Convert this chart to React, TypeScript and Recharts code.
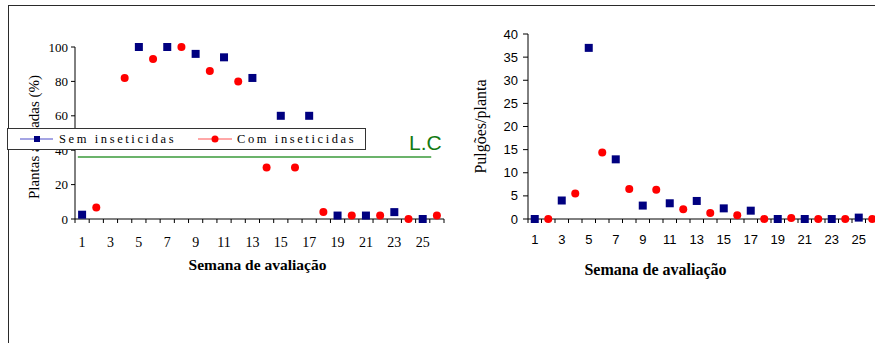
import React from 'react';
import { ScatterChart, Scatter, XAxis, YAxis, ReferenceLine, Label } from 'recharts';

// weeks of evaluation
const weeks = [1, 2, 3, 4, 5, 6, 7, 8, 9, 10, 11, 12, 13, 14, 15, 16, 17, 18, 19, 20, 21, 22, 23, 24, 25, 26];
const xTickLabels = [1, 3, 5, 7, 9, 11, 13, 15, 17, 19, 21, 23, 25];

// "Sem inseticidas" is sampled on odd weeks, "Com inseticidas" on even weeks
const semWeeks = [1, 3, 5, 7, 9, 11, 13, 15, 17, 19, 21, 23, 25];
const comWeeks = [2, 4, 6, 8, 10, 12, 14, 16, 18, 20, 22, 24, 26];

// left: attacked plants (%) - week 3 of "Sem" has no point in the picture
const semPlantas = [2.5, null, 100, 100, 96, 94, 82, 60, 60, 2, 2, 4, 0];
const comPlantas = [6.7, 82, 93, 100, 86, 80, 30, 30, 4, 2, 2, 0, 2];
const lcValue = 36;

// right: aphids per plant
const semPulgoes = [0, 4, 37, 12.9, 2.9, 3.4, 3.9, 2.3, 1.8, 0, 0, 0, 0.3];
const comPulgoes = [0, 5.5, 14.4, 6.5, 6.3, 2.1, 1.3, 0.8, 0, 0.2, 0, 0, 0];

const yTicksLeft = [0, 20, 40, 60, 80, 100];
const yTicksRight = [0, 5, 10, 15, 20, 25, 30, 35, 40];

const SERIF = "'Liberation Serif', 'Times New Roman', Times, 'DejaVu Serif', serif";
const SANS = "'Liberation Sans', Arial, Helvetica, sans-serif";
const NAVY = '#000080';
const RED = '#ff0000';

const toPoints = (xs: number[], ys: (number | null)[]) =>
  xs.map((w, i) => ({ week: w, value: ys[i] })).filter((p) => p.value !== null);

// tick marks sit between weeks, labels on odd weeks
const xTicks = [...weeks.map((w) => w - 0.5), weeks[weeks.length - 1] + 0.5, ...xTickLabels].sort((a, b) => a - b);

const weekTick = (props: any, font: string, size: number, dy: number) => {
  const { x, y, payload } = props;
  const v = payload.value;
  if (!Number.isInteger(v)) {
    return <line x1={x} x2={x} y1={y} y2={y + 4} stroke="#000" />;
  }
  return (
    <text x={x} y={y + dy} textAnchor="middle" style={{ fontFamily: font, fontSize: size }} fill="#000">
      {v}
    </text>
  );
};

const Square = (p: any) => <rect x={p.cx - 4} y={p.cy - 4} width={8} height={8} fill={NAVY} />;
const Dot = (p: any) => <circle cx={p.cx} cy={p.cy} r={4} fill={RED} />;

function PlantasChart() {
  return (
    <ScatterChart width={460} height={290} margin={{ top: 47, right: 16, bottom: 11, left: 0 }}>
      <XAxis
        type="number"
        dataKey="week"
        domain={[0.5, 26.5]}
        ticks={xTicks}
        interval={0}
        tickLine={false}
        tickSize={0}
        tickMargin={0}
        height={60}
        stroke="#000"
        tick={(p: any) => weekTick(p, SERIF, 14, 28)}
      >
        <Label
          value="Semana de avaliação"
          position="insideBottom"
          offset={9}
          dx={-2}
          style={{ fontFamily: SERIF, fontSize: 15.5, fontWeight: 'bold', fill: '#000' }}
        />
      </XAxis>
      <YAxis
        type="number"
        dataKey="value"
        domain={[0, 100]}
        ticks={yTicksLeft}
        width={75}
        tickSize={4}
        tickMargin={3}
        stroke="#000"
        tick={{ style: { fontFamily: SERIF, fontSize: 13 }, fill: '#000' }}
      >
        <Label
          value="Plantas atacadas (%)"
          angle={-90}
          position="insideLeft"
          offset={34}
          dy={4}
          style={{ fontFamily: SERIF, fontSize: 15, fill: '#000', textAnchor: 'middle' }}
        />
      </YAxis>
      <ReferenceLine
        segment={[{ x: 0.7, y: lcValue }, { x: 25.6, y: lcValue }]}
        stroke="#3a9a3a"
        strokeWidth={1.5}
      />
      <Scatter data={toPoints(semWeeks, semPlantas)} shape={Square} isAnimationActive={false} />
      <Scatter data={toPoints(comWeeks, comPlantas)} shape={Dot} isAnimationActive={false} />
    </ScatterChart>
  );
}

function PulgoesChart() {
  return (
    <ScatterChart width={430} height={290} margin={{ top: 34, right: 11, bottom: 11, left: 0 }}>
      <XAxis
        type="number"
        dataKey="week"
        domain={[0.5, 26.5]}
        ticks={xTicks}
        interval={0}
        tickLine={false}
        tickSize={0}
        tickMargin={0}
        height={60}
        stroke="#000"
        tick={(p: any) => weekTick(p, SANS, 13, 25)}
      >
        <Label
          value="Semana de avaliação"
          position="insideBottom"
          offset={4}
          dx={-48}
          style={{ fontFamily: SERIF, fontSize: 16, fontWeight: 'bold', fill: '#000' }}
        />
      </XAxis>
      <YAxis
        type="number"
        dataKey="value"
        domain={[0, 40]}
        ticks={yTicksRight}
        width={68}
        tickSize={5}
        tickMargin={5}
        stroke="#000"
        tick={{ style: { fontFamily: SANS, fontSize: 13 }, fill: '#000' }}
      >
        <Label
          value="Pulgões/planta"
          angle={-90}
          position="insideLeft"
          offset={20}
          style={{ fontFamily: SERIF, fontSize: 16, fill: '#000', textAnchor: 'middle' }}
        />
      </YAxis>
      <Scatter data={toPoints(semWeeks, semPulgoes)} shape={Square} isAnimationActive={false} />
      <Scatter data={toPoints(comWeeks, comPulgoes)} shape={Dot} isAnimationActive={false} />
    </ScatterChart>
  );
}

function LegendBox() {
  const text: React.CSSProperties = {
    position: 'absolute',
    top: 3,
    fontFamily: SERIF,
    fontSize: 12.5,
    letterSpacing: 2.6,
    lineHeight: '14px',
    whiteSpace: 'nowrap',
  };
  return (
    <div
      style={{
        position: 'absolute',
        left: 7,
        top: 128,
        width: 359,
        height: 22,
        boxSizing: 'border-box',
        border: '1.5px solid #333',
        background: '#fff',
      }}
    >
      <svg width={240} height={20} style={{ position: 'absolute', left: 0, top: 0 }}>
        <line x1={12} x2={45} y1={10} y2={10} stroke="#4a4ac8" />
        <rect x={26} y={7} width={6} height={6} fill={NAVY} />
        <line x1={190} x2={224} y1={10} y2={10} stroke="#ff5050" />
        <circle cx={207} cy={10} r={3.5} fill={RED} />
      </svg>
      <span style={{ ...text, left: 51 }}>Sem inseticidas</span>
      <span style={{ ...text, left: 229 }}>Com inseticidas</span>
    </div>
  );
}

export default function App() {
  return (
    <div style={{ position: 'absolute', left: 0, top: 0, width: 875, height: 343, overflow: 'hidden', background: '#fff' }}>
      <div
        style={{
          position: 'absolute',
          left: 8,
          top: 5,
          right: 0,
          bottom: 0,
          borderTop: '1.5px solid #2a2a2a',
          borderLeft: '1.5px solid #2a2a2a',
        }}
      />
      <div style={{ position: 'absolute', left: 0, top: 0 }}>
        <PlantasChart />
      </div>
      <div style={{ position: 'absolute', left: 460, top: 0 }}>
        <PulgoesChart />
      </div>
      <div
        style={{
          position: 'absolute',
          left: 409,
          top: 132,
          fontFamily: SANS,
          fontSize: 21,
          lineHeight: '21px',
          color: '#127a12',
        }}
      >
        L.C
      </div>
      <LegendBox />
    </div>
  );
}
